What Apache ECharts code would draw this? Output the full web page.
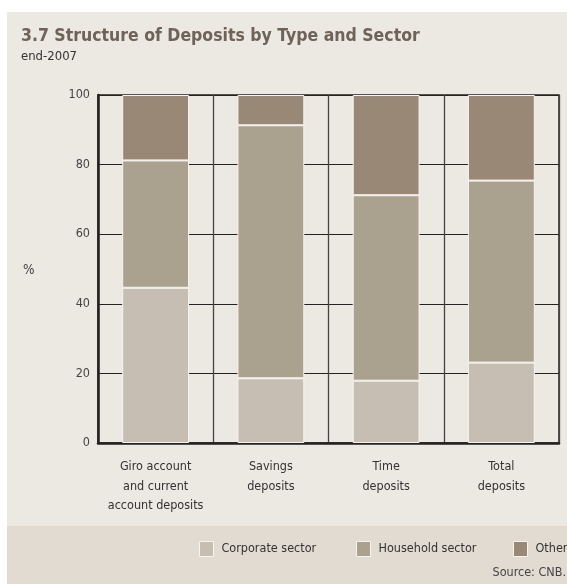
<!DOCTYPE html>
<html>
<head>
<meta charset="utf-8">
<script src="https://cdn.jsdelivr.net/npm/echarts@6/dist/echarts.min.js"></script>
<style>
  html, body { margin: 0; padding: 0; background: #ffffff; }
  #chart { width: 567px; height: 584px; }
</style>
</head>
<body>
<div id="chart"></div>
<script>
// Deposit types (x-axis categories)
const categories = [
  'Giro account\nand current\naccount deposits',
  'Savings\ndeposits',
  'Time\ndeposits',
  'Total\ndeposits'
];

// Share of each sector in the deposit type, %
const corporateSector = [44.6, 18.6, 17.9, 23.1];
const householdSector = [36.6, 72.7, 53.3, 52.3];
const otherSector     = [18.8, 8.7, 28.8, 24.6];

const seriesNames = ['Corporate sector', 'Household sector', 'Other'];
const yTicks = [0, 20, 40, 60, 80, 100];

const FONT = '"DejaVu Sans Condensed", "Liberation Sans Narrow", sans-serif';

const chart = echarts.init(document.getElementById('chart'), null, { renderer: 'canvas' });

function barSeries(name, data, color) {
  return {
    name: name,
    type: 'bar',
    stack: 'share',
    data: data,
    barWidth: '58%',
    itemStyle: { color: color, borderColor: '#f7f4f0', borderWidth: 1 }
  };
}

// one legend block per sector so each swatch sits at its own spot in the footer band
function legendItem(name, left) {
  return {
    left: left, top: 541, padding: 0,
    itemWidth: 14, itemHeight: 15,
    icon: 'rect',
    itemStyle: { borderColor: '#f7f4f0', borderWidth: 1 },
    textStyle: { fontFamily: FONT, fontSize: 12.5, color: '#333333', padding: [0, 0, 0, 3] },
    data: [name]
  };
}

chart.setOption({
  backgroundColor: '#ffffff',
  animation: false,
  textStyle: { fontFamily: FONT },
  graphic: [
    { type: 'rect', z: -10, shape: { x: 7, y: 12, width: 560, height: 514 }, style: { fill: '#ECE8E2' } },
    { type: 'rect', z: -10, shape: { x: 7, y: 526, width: 560, height: 58 }, style: { fill: '#E2DBD2' } }
  ],
  title: [
    {
      text: '3.7 Structure of Deposits by Type and Sector',
      left: 21, top: 27, padding: 0,
      textStyle: { fontFamily: FONT, fontSize: 17.5, fontWeight: 'bold', color: '#6E6259' }
    },
    {
      text: 'end-2007',
      left: 21, top: 50, padding: 0,
      textStyle: { fontFamily: FONT, fontSize: 13, fontWeight: 'normal', color: '#333333' }
    },
    {
      text: '%',
      left: 23, top: 263, padding: 0,
      textStyle: { fontFamily: FONT, fontSize: 13.5, fontWeight: 'normal', color: '#444444' }
    },
    {
      text: 'Source: CNB.',
      right: 1, top: 566, padding: 0,
      textStyle: { fontFamily: FONT, fontSize: 12.5, fontWeight: 'normal', color: '#444444' }
    }
  ],
  legend: [
    legendItem(seriesNames[0], 199),
    legendItem(seriesNames[1], 356),
    legendItem(seriesNames[2], 513)
  ],
  grid: {
    left: 98, right: 8, top: 95, bottom: 141,
    show: true, borderColor: '#222222', borderWidth: 1.5, backgroundColor: 'transparent'
  },
  xAxis: {
    type: 'category',
    data: categories,
    boundaryGap: true,
    axisLine: { show: true, lineStyle: { color: '#222222', width: 2.5 } },
    axisTick: { show: false },
    splitLine: { show: true, interval: 0, lineStyle: { color: '#444444', width: 1.3 } },
    axisLabel: {
      interval: 0, margin: 14,
      fontFamily: FONT, fontSize: 12.5, color: '#333333', lineHeight: 19.5
    }
  },
  yAxis: {
    type: 'value',
    min: 0, max: 100, interval: 20,
    axisLine: { show: true, lineStyle: { color: '#222222', width: 2.5 } },
    axisTick: { show: false },
    splitLine: { show: true, lineStyle: { color: '#222222', width: 1.2 } },
    axisLabel: {
      margin: 8, fontFamily: FONT, fontSize: 12.5, color: '#444444',
      formatter: v => (yTicks.includes(v) ? String(v) : '')
    }
  },
  series: [
    barSeries(seriesNames[0], corporateSector, '#C7BEB3'),
    barSeries(seriesNames[1], householdSector, '#ABA18F'),
    barSeries(seriesNames[2], otherSector, '#9A8877')
  ]
});
</script>
</body>
</html>
